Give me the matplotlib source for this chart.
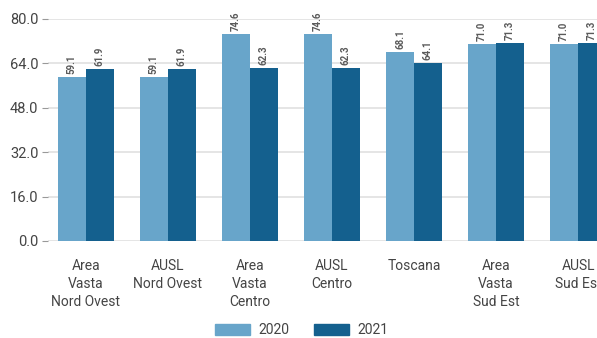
import numpy as np
import matplotlib
matplotlib.use("Agg")
import matplotlib.pyplot as plt
from matplotlib.patches import Patch

plt.rcParams['font.family'] = ['Roboto', 'DejaVu Sans']

categories = ["Area\nVasta\nNord Ovest", "AUSL\nNord Ovest", "Area\nVasta\nCentro",
              "AUSL\nCentro", "Toscana", "Area\nVasta\nSud Est", "AUSL\nSud Est"]
vals_2020 = [59.1, 59.1, 74.6, 74.6, 68.1, 71.0, 71.0]
vals_2021 = [61.9, 61.9, 62.3, 62.3, 64.1, 71.3, 71.3]
series_names = ["2020", "2021"]
yticks = [0, 16, 32, 48, 64, 80]

c2020 = "#68a5ca"
c2021 = "#14608e"

fig = plt.figure(figsize=(5.97, 3.38), dpi=100)
ax = fig.add_axes([48/597, 97/338, 1 - 48/597, 222/338])

x = np.arange(len(categories))
w = 0.34
b1 = ax.bar(x - w/2, vals_2020, w, color=c2020, zorder=3)
b2 = ax.bar(x + w/2, vals_2021, w, color=c2021, zorder=3)

for bars in (b1, b2):
    for r in bars:
        ax.text(r.get_x() + r.get_width()/2, r.get_height() + 1.0,
                "%.1f" % r.get_height(), rotation=90, ha="center", va="bottom",
                fontsize=7, fontweight="bold", color="#5a5a5a")

ax.set_xlim(-0.46, 6.23)
ax.set_ylim(0, 80)
ax.set_yticks(yticks)
ax.set_yticklabels(["%.1f" % v for v in yticks])
ax.set_xticks(x)
ax.set_xticklabels(categories, linespacing=1.38)
ax.grid(axis="y", color="#e3e3e3", linewidth=1.3, zorder=0)
for s in ax.spines.values():
    s.set_visible(False)
ax.tick_params(axis="y", length=4, color="#999999", labelsize=10.5, labelcolor="#444444", pad=3)
ax.tick_params(axis="x", length=0, labelsize=10, labelcolor="#444444", pad=13)

handles = [Patch(color=c2020), Patch(color=c2021)]
fig.legend(handles, series_names, loc="lower center", bbox_to_anchor=(0.505, -0.035),
           ncol=2, frameon=False, fontsize=10, handlelength=2.5, handleheight=0.9,
           handletextpad=0.6, columnspacing=1.8, labelcolor="#444444")

fig.savefig("out.png", dpi=100)
